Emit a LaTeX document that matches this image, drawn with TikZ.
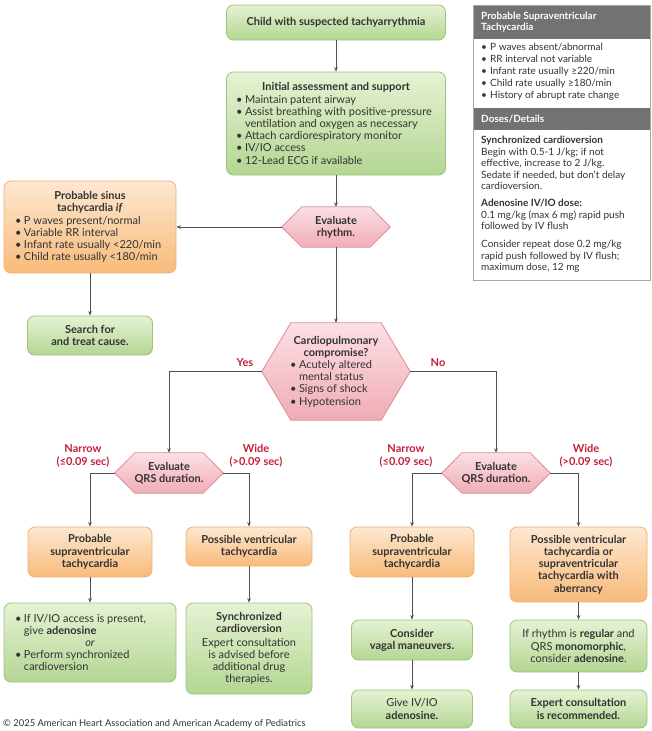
\documentclass[tikz,border=0pt]{standalone}
\usepackage{fontspec}
\setmainfont{Lato}
\usetikzlibrary{arrows.meta,backgrounds}
\definecolor{txt}{HTML}{333333}
\definecolor{gtop}{HTML}{E6F2D3}
\definecolor{gbot}{HTML}{B3D693}
\definecolor{gbrd}{HTML}{9CC47A}
\definecolor{otop}{HTML}{FDE8D0}
\definecolor{obot}{HTML}{F8BA7A}
\definecolor{obrd}{HTML}{F0B07A}
\definecolor{ptop}{HTML}{FBE0E4}
\definecolor{pbot}{HTML}{F0ACB6}
\definecolor{pbrd}{HTML}{DD8C98}
\definecolor{redlab}{HTML}{C4203A}
\definecolor{linec}{HTML}{505050}
\definecolor{sbgray}{HTML}{727272}
\definecolor{sbbrd}{HTML}{A8A8A8}
\newcommand\bi{\par\noindent\hangindent=9pt\hangafter=1\makebox[9pt][l]{\textbullet}}
\newcommand\blist[2]{\parbox[t]{#1}{\raggedright\setlength\parindent{0pt}#2}}
\newcommand\hexbg[2]{\path[hexfill] (#1.west) -- ([xshift=#2]#1.north west) -- ([xshift=-#2]#1.north east) -- (#1.east) -- ([xshift=-#2]#1.south east) -- ([xshift=#2]#1.south west) -- cycle;}
\tikzset{
  base/.style={rectangle, align=center, inner sep=0pt, text=txt, font=\fontsize{11}{12.2}\selectfont},
  greenbox/.style={base, draw=gbrd, line width=0.8pt, rounded corners=7pt, top color=gtop, bottom color=gbot},
  orangebox/.style={base, draw=obrd, line width=0.8pt, rounded corners=7pt, top color=otop, bottom color=obot},
  hexnode/.style={base},
  hexfill/.style={draw=pbrd, line width=0.8pt, top color=ptop, bottom color=pbot},
  arr/.style={draw=linec, line width=0.7pt, -{Stealth[length=4.5pt,width=3.6pt]}},
  lab/.style={text=redlab, font=\bfseries\fontsize{11}{13}\selectfont, align=center, inner sep=0pt},
  sbhead/.style={anchor=west, text=white, font=\bfseries\fontsize{10}{11}\selectfont, align=left, inner sep=0pt},
  sbtext/.style={text=txt, align=left, inner sep=0pt, font=\fontsize{10}{11.5}\selectfont}
}
\begin{document}
\begin{tikzpicture}[x=1pt,y=-1pt]
\useasboundingbox (0,0) rectangle (652,731);

% main flow
\node[greenbox, minimum width=219pt, minimum height=35pt] (top) at (336,22.5) {\textbf{Child with suspected tachyarrythmia}};
\node[greenbox, minimum width=219pt, minimum height=103pt] (init) at (336,123.5) {\textbf{Initial assessment and support}\\
\blist{200pt}{\bi Maintain patent airway\bi Assist breathing with positive-pressure\newline ventilation and oxygen as necessary\bi Attach cardiorespiratory monitor\bi IV/IO access\bi 12-Lead ECG if available}};
\node[hexnode, minimum width=108pt, minimum height=40pt] (rh) at (336,227) {\textbf{Evaluate}\\\textbf{rhythm.}};
\node[orangebox, minimum width=172pt, minimum height=92pt] (sinus) at (90,227) {\textbf{Probable sinus}\\\textbf{tachycardia \textit{if}}\\
\blist{150pt}{\bi P waves present/normal\bi Variable RR interval\bi Infant rate usually <220/min\bi Child rate usually <180/min}};
\node[greenbox, minimum width=125pt, minimum height=39pt] (search) at (90,335.5) {\textbf{Search for}\\\textbf{and treat cause.}};
\node[hexnode, minimum width=148pt, minimum height=97pt] (cp) at (336,371.5) {\textbf{Cardiopulmonary}\\\textbf{compromise?}\\
\blist{92pt}{\bi Acutely altered\newline mental status\bi Signs of shock\bi Hypotension}};
\node[hexnode, minimum width=108pt, minimum height=40pt] (qL) at (169,473) {\textbf{Evaluate}\\\textbf{QRS duration.}};
\node[hexnode, minimum width=108pt, minimum height=40pt] (qR) at (496,473) {\textbf{Evaluate}\\\textbf{QRS duration.}};

\node[orangebox, minimum width=124pt, minimum height=50pt] (ll) at (90,552) {\textbf{Probable}\\\textbf{supraventricular}\\\textbf{tachycardia}};
\node[orangebox, minimum width=126pt, minimum height=39pt] (lr) at (249,546.5) {\textbf{Possible ventricular}\\\textbf{tachycardia}};
\node[greenbox, minimum width=172pt, minimum height=79pt] (llg) at (90,642.5) {\blist{150pt}{\bi If IV/IO access is present,\newline give \textbf{adenosine}\par{\centering\itshape or\par}\bi Perform synchronized\newline cardioversion}};
\node[greenbox, minimum width=126pt, minimum height=91pt] (lrg) at (249,648.5) {\textbf{Synchronized}\\\textbf{cardioversion}\\[1pt]Expert consultation\\is advised before\\additional drug\\therapies.};

\node[orangebox, minimum width=124pt, minimum height=50pt] (rl) at (412,552) {\textbf{Probable}\\\textbf{supraventricular}\\\textbf{tachycardia}};
\node[greenbox, minimum width=121pt, minimum height=40pt] (rlg1) at (412,640) {\textbf{Consider}\\\textbf{vagal maneuvers.}};
\node[greenbox, minimum width=121pt, minimum height=38pt] (rlg2) at (412,709) {Give IV/IO\\\textbf{adenosine.}};
\node[orangebox, minimum width=137pt, minimum height=75pt] (rr) at (578.5,564.5) {\textbf{Possible ventricular}\\\textbf{tachycardia or}\\\textbf{supraventricular}\\\textbf{tachycardia with}\\\textbf{aberrancy}};
\node[greenbox, minimum width=137pt, minimum height=52pt] (rrg1) at (578.5,646) {If rhythm is \textbf{regular} and\\QRS \textbf{monomorphic},\\consider \textbf{adenosine}.};
\node[greenbox, minimum width=137pt, minimum height=38pt] (rrg2) at (578.5,709) {\textbf{Expert consultation}\\\textbf{is recommended.}};

\begin{scope}[on background layer]
\fill[white] (0,0) rectangle (652,731);
\hexbg{rh}{20pt}
\hexbg{cp}{29pt}
\hexbg{qL}{20pt}
\hexbg{qR}{20pt}
\end{scope}

% labels
\node[lab] (yes) at (245,363) {Yes};
\node[lab] (no) at (438,363) {No};
\node[lab] (nL) at (83,455.5) {Narrow\\(≤0.09 sec)};
\node[lab] (wL) at (256,455.5) {Wide\\(>0.09 sec)};
\node[lab] (nR) at (406,455.5) {Narrow\\(≤0.09 sec)};
\node[lab] (wR) at (586,455.5) {Wide\\(>0.09 sec)};

% connectors
\draw[arr] (top) -- (init);
\draw[arr] (init) -- (rh);
\draw[arr] (rh.west) -- (sinus.east);
\draw[arr] (rh.south) -- (cp.north);
\draw[arr] (sinus) -- (search);
\draw[arr] (cp.west) -| (qL.north);
\draw[arr] (cp.east) -| (qR.north);
\draw[arr] (qL.west) -| (ll.north);
\draw[arr] (qL.east) -| (lr.north);
\draw[arr] (qR.west) -| (rl.north);
\draw[arr] (qR.east) -| (rr.north);
\draw[arr] (ll) -- (llg);
\draw[arr] (lr) -- (lrg);
\draw[arr] (rl) -- (rlg1);
\draw[arr] (rlg1) -- (rlg2);
\draw[arr] (rr) -- (rrg1);
\draw[arr] (rrg1) -- (rrg2);

% sidebar
\path[fill=sbgray] (473,5) rectangle (650,39);
\path[fill=sbgray] (473,108) rectangle (650,130);
\draw[draw=sbbrd, line width=0.8pt] (473,5) rectangle (650,280);
\node[sbhead] (sbh1) at (481,22.5) {Probable Supraventricular\\Tachycardia};
\node[sbtext, anchor=north west, font=\fontsize{10}{12}\selectfont] (sbl) at (481,43) {\blist{165pt}{\bi P waves absent/abnormal\bi RR interval not variable\bi Infant rate usually ≥220/min\bi Child rate usually ≥180/min\bi History of abrupt rate change}};
\node[sbhead] (sbh2) at (481,119.5) {Doses/Details};
\node[sbtext, anchor=north west] (sbd) at (481,136) {\textbf{Synchronized cardioversion}\\Begin with 0.5-1 J/kg; if not\\effective, increase to 2 J/kg.\\Sedate if needed, but don't delay\\cardioversion.\\[5.5pt]
\textbf{Adenosine IV/IO dose:}\\0.1 mg/kg (max 6 mg) rapid push\\followed by IV flush\\[6.5pt]
Consider repeat dose 0.2 mg/kg\\rapid push followed by IV flush;\\maximum dose, 12 mg};

% copyright
\node[anchor=west, inner sep=0pt, text=txt, font=\fontsize{9.4}{10}\selectfont] (copy) at (3,723.5) {© 2025 American Heart Association and American Academy of Pediatrics};
\end{tikzpicture}
\end{document}
